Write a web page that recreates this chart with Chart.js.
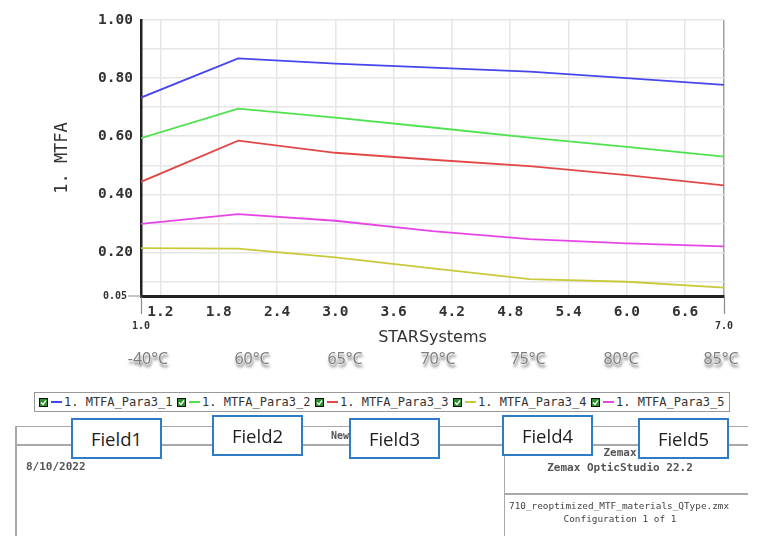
<!DOCTYPE html>
<html>
<head>
<meta charset="utf-8">
<script src="https://cdn.jsdelivr.net/npm/chart.js@4.4.0/dist/chart.umd.min.js"></script>
<style>
body { margin: 0; background: #fff; }
#wrap { position: relative; width: 765px; height: 543px; overflow: hidden; }
#myCanvas { position: absolute; left: 0; top: 0; }
.temp { position: absolute; top: 347px; transform: translateX(-50%); font: 16px 'Open Sans', sans-serif; color: #7a7a7a; white-space: nowrap;
  text-shadow: 0 0 1px #fff, 0 0 2px #fff, 1px 3px 3px rgba(0,0,0,0.7); }
#legend { position: absolute; left: 34px; top: 392px; width: 696px; height: 20px; border: 1px solid #999; box-sizing: border-box;
  font: 12px 'DejaVu Sans Mono', monospace; color: #333; display: flex; align-items: center; padding-left: 4px; white-space: nowrap; background: #fff; }
.item { display: flex; align-items: center; width: 139px; }
.swatch { display: inline-block; width: 11px; height: 2px; margin: 0 2px 0 3px; }
.hl, .vl { position: absolute; background: #a8a8a8; }
.txt { position: absolute; font: bold 11px 'DejaVu Sans Mono', monospace; color: #555; white-space: nowrap; }
.small { font-size: 9.4px; font-weight: normal; color: #444; }
.field { position: absolute; width: 91px; height: 41px; border: 2px solid #2e7cc6; background: #fff; box-sizing: border-box;
  font: 18.5px 'Open Sans', sans-serif; color: #1e1e1e; display: flex; align-items: center; justify-content: center; }
</style>
</head>
<body>
<div id="wrap">
  <canvas id="myCanvas" width="765" height="543"></canvas>
  <div id="temps"></div>
  <div id="legend"></div>

  <!-- report frame under the plot -->
  <div class="hl" style="left:15px; top:426px; width:733px; height:1px;"></div>
  <div class="hl" style="left:15px; top:444px; width:733px; height:2px;"></div>
  <div class="vl" style="left:15px; top:426px; width:2px; height:110px;"></div>
  <div class="vl" style="left:504px; top:444px; width:1px; height:92px;"></div>
  <div class="hl" style="left:504px; top:493px; width:244px; height:2px;"></div>
  <div class="txt" style="left:331px; top:430px; font-size:10px;">New</div>
  <div class="txt" style="left:26px; top:460px;">8/10/2022</div>
  <div class="txt" style="left:620px; top:446px; transform:translateX(-50%);">Zemax</div>
  <div class="txt" style="left:620px; top:461px; transform:translateX(-50%);">Zemax OpticStudio 22.2</div>
  <div class="txt small" style="left:509px; top:500px;">710_reoptimized_MTF_materials_QType.zmx</div>
  <div class="txt small" style="left:620px; top:513px; transform:translateX(-50%);">Configuration 1 of 1</div>

  <div class="field" style="left:71px; top:418px;">Field1</div>
  <div class="field" style="left:212px; top:415px;">Field2</div>
  <div class="field" style="left:349px; top:418px;">Field3</div>
  <div class="field" style="left:502px; top:415px;">Field4</div>
  <div class="field" style="left:638px; top:418px;">Field5</div>
</div>
<script>
'use strict';

// configuration numbers along the x axis (1..7)
let configs = [1, 2, 3, 4, 5, 6, 7];

// MTF values, one array per field
let para1 = [0.733, 0.868, 0.850, 0.836, 0.822, 0.800, 0.777];
let para2 = [0.593, 0.695, 0.664, 0.630, 0.595, 0.563, 0.530];
let para3 = [0.443, 0.585, 0.543, 0.519, 0.497, 0.466, 0.431];
let para4 = [0.215, 0.213, 0.183, 0.145, 0.108, 0.099, 0.079];
let para5 = [0.298, 0.332, 0.309, 0.273, 0.246, 0.231, 0.221];

let seriesNames = ['1. MTFA_Para3_1', '1. MTFA_Para3_2', '1. MTFA_Para3_3', '1. MTFA_Para3_4', '1. MTFA_Para3_5'];
let seriesColors = ['#4646ee', '#4ee24e', '#e24848', '#c9c93c', '#e645e6'];

// tick values
let xTicks = [1.0, 1.2, 1.8, 2.4, 3.0, 3.6, 4.2, 4.8, 5.4, 6.0, 6.6, 7.0];
let yTicks = [0.05, 0.1, 0.2, 0.3, 0.4, 0.5, 0.6, 0.7, 0.8, 0.9, 1.0];
let yLabelled = [0.05, 0.2, 0.4, 0.6, 0.8, 1.0];

// temperature captions pasted under the axis
let tempLabels = ['-40°C', '60°C', '65°C', '70°C', '75°C', '80°C', '85°C'];
let tempLeft = [148, 252, 345, 438, 528, 621, 721];

const mono = "'DejaVu Sans Mono', monospace";
const allSeries = [para1, para2, para3, para4, para5];

function isEdge(v) {
  return v === 1 || v === 7;
}

// build the html legend from the series arrays
function renderLegend() {
  const legend = document.getElementById('legend');
  for (let i = 0; i < seriesNames.length; i++) {
    let item = document.createElement('span');
    item.className = 'item';
    item.innerHTML = '<svg width="9" height="9"><rect x="0.5" y="0.5" width="8" height="8" fill="#2f8f2f" stroke="#111"/>' +
      '<polyline points="2,4.5 4,6.5 7,2.5" fill="none" stroke="#fff" stroke-width="1.3"/></svg>' +
      '<span class="swatch" style="background:' + seriesColors[i] + '"></span>' + seriesNames[i];
    legend.appendChild(item);
  }
}

function renderTemps() {
  const temps = document.getElementById('temps');
  for (let i = 0; i < tempLabels.length; i++) {
    let t = document.createElement('div');
    t.className = 'temp';
    t.style.left = tempLeft[i] + 'px';
    t.textContent = tempLabels[i];
    temps.appendChild(t);
  }
}

// the long end ticks at x = 1.0 / 7.0 and at y = 0.05, drawn from the scales
const endTicks = {
  id: 'endTicks',
  afterDraw(chart) {
    const ctx = chart.ctx;
    const xs = chart.scales.x;
    const ys = chart.scales.y;
    const bottom = ys.getPixelForValue(0.05);
    ctx.save();
    ctx.strokeStyle = '#8c8c8c';
    ctx.lineWidth = 1.2;
    ctx.beginPath();
    ctx.moveTo(xs.getPixelForValue(1) - 13, bottom);
    ctx.lineTo(xs.getPixelForValue(1), bottom);
    [1, 7].forEach(v => {
      const px = Math.round(xs.getPixelForValue(v)) + 0.5;
      ctx.moveTo(px, bottom + 1);
      ctx.lineTo(px, bottom + 18);
    });
    ctx.stroke();
    ctx.restore();
  }
};

function renderChart() {
  let datasets = [];
  for (let i = 0; i < allSeries.length; i++) {
    datasets.push({
      label: seriesNames[i],
      data: allSeries[i].map((v, j) => ({ x: configs[j], y: v })),
      borderColor: seriesColors[i],
      borderWidth: 1.8,
      pointRadius: 0,
      tension: 0,
      fill: false
    });
  }

  const config = {
    type: 'line',
    data: { datasets: datasets },
    plugins: [endTicks],
    options: {
      responsive: false,
      animation: false,
      layout: { padding: { left: 52, top: 20, right: 41, bottom: 196 } },
      plugins: { legend: { display: false }, tooltip: { enabled: false } },
      scales: {
        x: {
          type: 'linear',
          min: 1,
          max: 7,
          afterBuildTicks: (scale) => { scale.ticks = xTicks.map(v => ({ value: v })); },
          afterFit: (scale) => { scale.height = 51; },
          ticks: {
            autoSkip: false,
            maxRotation: 0,
            minRotation: 0,
            padding: -10,
            color: '#333',
            callback: (v) => isEdge(v) ? ['', v.toFixed(1)] : v.toFixed(1),
            font: (ctx) => ctx.tick && isEdge(ctx.tick.value)
              ? { family: mono, size: 10, weight: 'bold', lineHeight: 1.47 }
              : { family: mono, size: 14.5, weight: 'bold' }
          },
          grid: {
            color: (ctx) => ctx.tick && ctx.tick.value === 1 ? 'rgba(0,0,0,0)' : (ctx.tick && ctx.tick.value === 7 ? '#a0a0a0' : '#e6e6e6'),
            lineWidth: 1.5,
            tickLength: 18,
            tickColor: 'rgba(0,0,0,0)'
          },
          border: { display: true, color: '#222', width: 3 },
          title: {
            display: true,
            text: 'STARSystems',
            color: '#333',
            padding: 0,
            font: { family: "'DejaVu Sans', sans-serif", size: 16 }
          }
        },
        y: {
          min: 0.05,
          max: 1.0,
          afterBuildTicks: (scale) => { scale.ticks = yTicks.map(v => ({ value: v })); },
          afterFit: (scale) => { scale.width = 89; },
          ticks: {
            autoSkip: false,
            padding: -5,
            color: '#333',
            // the small bottom label sits a little further from its tick mark
            callback: (v) => v === 0.05 ? '0.05 ' : (yLabelled.indexOf(v) !== -1 ? v.toFixed(2) : ''),
            font: (ctx) => ctx.tick && ctx.tick.value === 0.05
              ? { family: mono, size: 10, weight: 'bold' }
              : { family: mono, size: 14.5, weight: 'bold' }
          },
          grid: {
            color: (ctx) => ctx.tick && ctx.tick.value === 0.05 ? 'rgba(0,0,0,0)' : '#e6e6e6',
            lineWidth: 1.5,
            tickLength: 13,
            tickColor: 'rgba(0,0,0,0)'
          },
          border: { display: true, color: '#222', width: 2.5 },
          title: {
            display: true,
            text: '1. MTFA',
            color: '#333',
            padding: 0,
            font: { family: mono, size: 17 }
          }
        }
      }
    }
  };
  const myChart = new Chart(document.getElementById('myCanvas'), config);
}

renderLegend();
renderTemps();
renderChart();
</script>
</body>
</html>
